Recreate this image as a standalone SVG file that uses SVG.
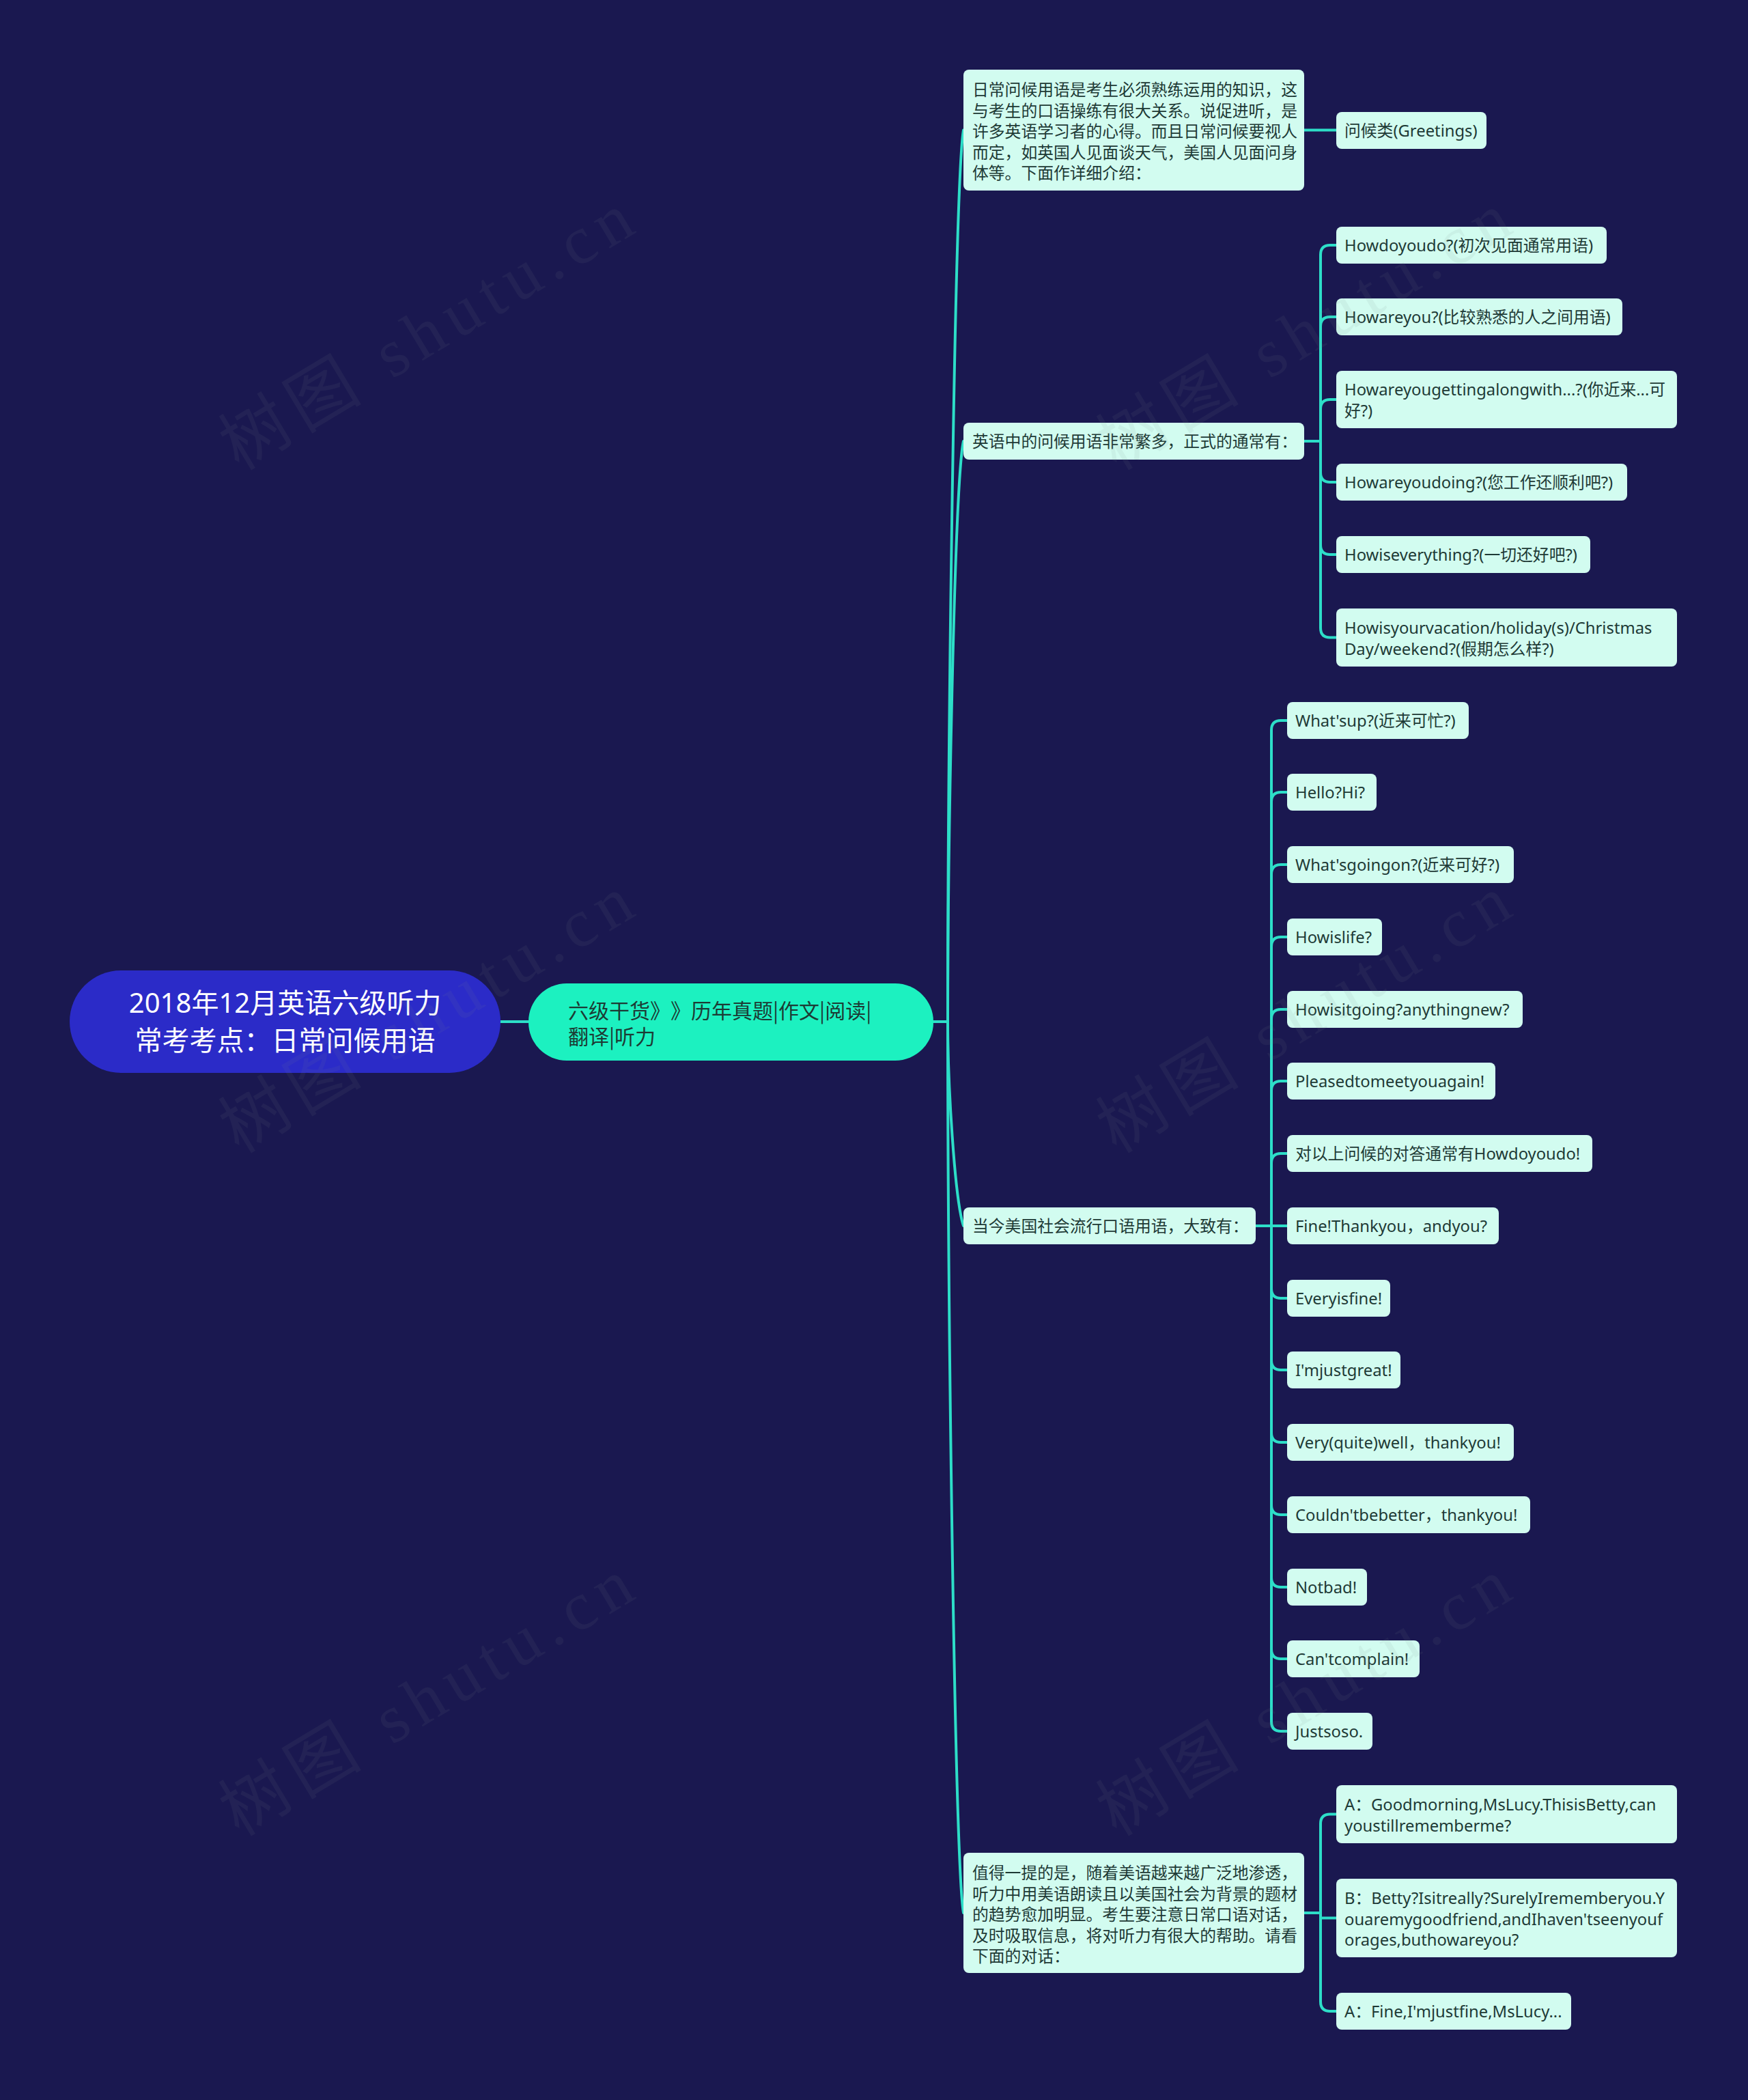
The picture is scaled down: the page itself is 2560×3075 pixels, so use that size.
<svg xmlns="http://www.w3.org/2000/svg" width="2560" height="3075" viewBox="0 0 2560 3075">
<style>
.bg{fill:#1a1850}
.root{fill:#2b2bc8}
.main{fill:#1cf1c0}
.leaf{fill:#d2fcf0}
.edge{fill:none;stroke:#2ddec8;stroke-width:4;stroke-linecap:round;stroke-linejoin:round}
text{font-family:'Noto Sans','Noto Sans CJK SC',sans-serif;text-spacing-trim:space-all}
.rt{font-size:40px;fill:#ffffff;text-anchor:middle}
.mt{font-size:30px;fill:#1c3b35;font-family:'Noto Sans CJK SC',sans-serif}
.t{font-size:23.8px;fill:#1e3a36}
.wm{font-family:'Liberation Serif','Noto Sans CJK SC',serif;font-size:100px;letter-spacing:12px;fill:#7a8a8c;opacity:0.09}
</style>
<rect class="bg" x="0" y="0" width="2560" height="3075"/>

<g id="connectors">
<path class="edge" d="M733 1496 H774"/>
<path class="edge" d="M1367 1496 H1388"/>
<path class="edge" d="M1388 1496 C1388 1104 1398 270 1411 190.5"/>
<path class="edge" d="M1388 1496 C1388 1241 1398 706 1411 646"/>
<path class="edge" d="M1388 1496 C1388 1586 1398 1755 1411 1795"/>
<path class="edge" d="M1388 1496 C1388 1888 1398 2721 1411 2801"/>
<path class="edge" d="M1910 190.5 H1957"/>
<path class="edge" d="M1910 646 H1934 V373 Q1934 359 1948 359 H1957"/>
<path class="edge" d="M1910 646 H1934 V478 Q1934 464 1948 464 H1957"/>
<path class="edge" d="M1910 646 H1934 V599 Q1934 585 1948 585 H1957"/>
<path class="edge" d="M1910 646 H1934 V692 Q1934 706 1948 706 H1957"/>
<path class="edge" d="M1910 646 H1934 V798 Q1934 812 1948 812 H1957"/>
<path class="edge" d="M1910 646 H1934 V919.5 Q1934 933.5 1948 933.5 H1957"/>
<path class="edge" d="M1839 1795 H1862 V1069 Q1862 1055 1876 1055 H1885"/>
<path class="edge" d="M1839 1795 H1862 V1174 Q1862 1160 1876 1160 H1885"/>
<path class="edge" d="M1839 1795 H1862 V1280 Q1862 1266 1876 1266 H1885"/>
<path class="edge" d="M1839 1795 H1862 V1386 Q1862 1372 1876 1372 H1885"/>
<path class="edge" d="M1839 1795 H1862 V1492 Q1862 1478 1876 1478 H1885"/>
<path class="edge" d="M1839 1795 H1862 V1597 Q1862 1583 1876 1583 H1885"/>
<path class="edge" d="M1839 1795 H1862 V1703 Q1862 1689 1876 1689 H1885"/>
<path class="edge" d="M1839 1795 H1885"/>
<path class="edge" d="M1839 1795 H1862 V1887 Q1862 1901 1876 1901 H1885"/>
<path class="edge" d="M1839 1795 H1862 V1992 Q1862 2006 1876 2006 H1885"/>
<path class="edge" d="M1839 1795 H1862 V2098 Q1862 2112 1876 2112 H1885"/>
<path class="edge" d="M1839 1795 H1862 V2204 Q1862 2218 1876 2218 H1885"/>
<path class="edge" d="M1839 1795 H1862 V2310 Q1862 2324 1876 2324 H1885"/>
<path class="edge" d="M1839 1795 H1862 V2415 Q1862 2429 1876 2429 H1885"/>
<path class="edge" d="M1839 1795 H1862 V2521 Q1862 2535 1876 2535 H1885"/>
<path class="edge" d="M1910 2801 H1934 V2670.5 Q1934 2656.5 1948 2656.5 H1957"/>
<path class="edge" d="M1910 2801 H1934 V2808.5 H1957"/>
<path class="edge" d="M1910 2801 H1934 V2931 Q1934 2945 1948 2945 H1957"/>
</g>

<g id="root">
<rect class="root" x="102" y="1421" width="631" height="150" rx="75"/>
<text class="rt" x="417.5" y="1483">2018年12月英语六级听力</text>
<text class="rt" x="417.5" y="1538">常考考点：日常问候用语</text>
</g>

<g id="main">
<rect class="main" x="774" y="1440" width="593" height="113" rx="56"/>
<text class="mt" x="832" y="1491">六级干货》》历年真题|作文|阅读|</text>
<text class="mt" x="832" y="1529">翻译|听力</text>
</g>

<g id="n1">
<rect class="leaf" x="1411" y="102" width="499" height="177" rx="8"/>
<text class="t" x="1424" y="140">日常问候用语是考生必须熟练运用的知识，这</text>
<text class="t" x="1424" y="170.5">与考生的口语操练有很大关系。说促进听，是</text>
<text class="t" x="1424" y="201">许多英语学习者的心得。而且日常问候要视人</text>
<text class="t" x="1424" y="231.5">而定，如英国人见面谈天气，美国人见面问身</text>
<text class="t" x="1424" y="262">体等。下面作详细介绍：</text>
</g>
<g id="n1-1">
<rect class="leaf" x="1957" y="164" width="220" height="54" rx="8"/>
<text class="t" x="1969" y="200">问候类(Greetings)</text>
</g>

<g id="n2">
<rect class="leaf" x="1411" y="619" width="499" height="54" rx="8"/>
<text class="t" x="1424" y="655">英语中的问候用语非常繁多，正式的通常有：</text>
</g>
<g id="n2-1">
<rect class="leaf" x="1957" y="332" width="396" height="54" rx="8"/>
<text class="t" x="1969" y="368">Howdoyoudo?(初次见面通常用语)</text>
</g>
<g id="n2-2">
<rect class="leaf" x="1957" y="437" width="419" height="54" rx="8"/>
<text class="t" x="1969" y="473">Howareyou?(比较熟悉的人之间用语)</text>
</g>
<g id="n2-3">
<rect class="leaf" x="1957" y="543" width="499" height="84" rx="8"/>
<text class="t" x="1969" y="579">Howareyougettingalongwith...?(你近来...可</text>
<text class="t" x="1969" y="609.5">好?)</text>
</g>
<g id="n2-4">
<rect class="leaf" x="1957" y="679" width="426" height="54" rx="8"/>
<text class="t" x="1969" y="715">Howareyoudoing?(您工作还顺利吧?)</text>
</g>
<g id="n2-5">
<rect class="leaf" x="1957" y="785" width="372" height="54" rx="8"/>
<text class="t" x="1969" y="821">Howiseverything?(一切还好吧?)</text>
</g>
<g id="n2-6">
<rect class="leaf" x="1957" y="891" width="499" height="85" rx="8"/>
<text class="t" x="1969" y="928">Howisyourvacation/holiday(s)/Christmas</text>
<text class="t" x="1969" y="958.5">Day/weekend?(假期怎么样?)</text>
</g>

<g id="n3">
<rect class="leaf" x="1411" y="1768" width="428" height="54" rx="8"/>
<text class="t" x="1424" y="1804">当今美国社会流行口语用语，大致有：</text>
</g>
<g id="n3-1"><rect class="leaf" x="1885" y="1028" width="266" height="54" rx="8"/><text class="t" x="1897" y="1064">What'sup?(近来可忙?)</text></g>
<g id="n3-2"><rect class="leaf" x="1885" y="1133" width="131" height="54" rx="8"/><text class="t" x="1897" y="1169">Hello?Hi?</text></g>
<g id="n3-3"><rect class="leaf" x="1885" y="1239" width="332" height="54" rx="8"/><text class="t" x="1897" y="1275">What'sgoingon?(近来可好?)</text></g>
<g id="n3-4"><rect class="leaf" x="1885" y="1345" width="139" height="54" rx="8"/><text class="t" x="1897" y="1381">Howislife?</text></g>
<g id="n3-5"><rect class="leaf" x="1885" y="1451" width="345" height="54" rx="8"/><text class="t" x="1897" y="1487">Howisitgoing?anythingnew?</text></g>
<g id="n3-6"><rect class="leaf" x="1885" y="1556" width="305" height="54" rx="8"/><text class="t" x="1897" y="1592">Pleasedtomeetyouagain!</text></g>
<g id="n3-7"><rect class="leaf" x="1885" y="1662" width="447" height="54" rx="8"/><text class="t" x="1897" y="1698">对以上问候的对答通常有Howdoyoudo!</text></g>
<g id="n3-8"><rect class="leaf" x="1885" y="1768" width="310" height="54" rx="8"/><text class="t" x="1897" y="1804">Fine!Thankyou，andyou?</text></g>
<g id="n3-9"><rect class="leaf" x="1885" y="1874" width="151" height="54" rx="8"/><text class="t" x="1897" y="1910">Everyisfine!</text></g>
<g id="n3-10"><rect class="leaf" x="1885" y="1979" width="166" height="54" rx="8"/><text class="t" x="1897" y="2015">I'mjustgreat!</text></g>
<g id="n3-11"><rect class="leaf" x="1885" y="2085" width="332" height="54" rx="8"/><text class="t" x="1897" y="2121">Very(quite)well，thankyou!</text></g>
<g id="n3-12"><rect class="leaf" x="1885" y="2191" width="356" height="54" rx="8"/><text class="t" x="1897" y="2227">Couldn'tbebetter，thankyou!</text></g>
<g id="n3-13"><rect class="leaf" x="1885" y="2297" width="117" height="54" rx="8"/><text class="t" x="1897" y="2333">Notbad!</text></g>
<g id="n3-14"><rect class="leaf" x="1885" y="2402" width="194" height="54" rx="8"/><text class="t" x="1897" y="2438">Can'tcomplain!</text></g>
<g id="n3-15"><rect class="leaf" x="1885" y="2508" width="125" height="54" rx="8"/><text class="t" x="1897" y="2544">Justsoso.</text></g>

<g id="n4">
<rect class="leaf" x="1411" y="2713" width="499" height="176" rx="8"/>
<text class="t" x="1424" y="2751">值得一提的是，随着美语越来越广泛地渗透，</text>
<text class="t" x="1424" y="2781.5">听力中用美语朗读且以美国社会为背景的题材</text>
<text class="t" x="1424" y="2812">的趋势愈加明显。考生要注意日常口语对话，</text>
<text class="t" x="1424" y="2842.5">及时吸取信息，将对听力有很大的帮助。请看</text>
<text class="t" x="1424" y="2873">下面的对话：</text>
</g>
<g id="n4-1">
<rect class="leaf" x="1957" y="2614" width="499" height="85" rx="8"/>
<text class="t" x="1969" y="2651">A：Goodmorning,MsLucy.ThisisBetty,can</text>
<text class="t" x="1969" y="2681.5">youstillrememberme?</text>
</g>
<g id="n4-2">
<rect class="leaf" x="1957" y="2751" width="499" height="115" rx="8"/>
<text class="t" x="1969" y="2788">B：Betty?Isitreally?SurelyIrememberyou.Y</text>
<text class="t" x="1969" y="2818.5">ouaremygoodfriend,andIhaven'tseenyouf</text>
<text class="t" x="1969" y="2849">orages,buthowareyou?</text>
</g>
<g id="n4-3">
<rect class="leaf" x="1957" y="2918" width="344" height="54" rx="8"/>
<text class="t" x="1969" y="2954">A：Fine,I'mjustfine,MsLucy...</text>
</g>

<g id="watermarks">
<text class="wm" transform="translate(350 690) rotate(-31)">树图 shutu.cn</text>
<text class="wm" transform="translate(1635 690) rotate(-31)">树图 shutu.cn</text>
<text class="wm" transform="translate(350 1690) rotate(-31)">树图 shutu.cn</text>
<text class="wm" transform="translate(1635 1690) rotate(-31)">树图 shutu.cn</text>
<text class="wm" transform="translate(350 2690) rotate(-31)">树图 shutu.cn</text>
<text class="wm" transform="translate(1635 2690) rotate(-31)">树图 shutu.cn</text>
</g>
</svg>
